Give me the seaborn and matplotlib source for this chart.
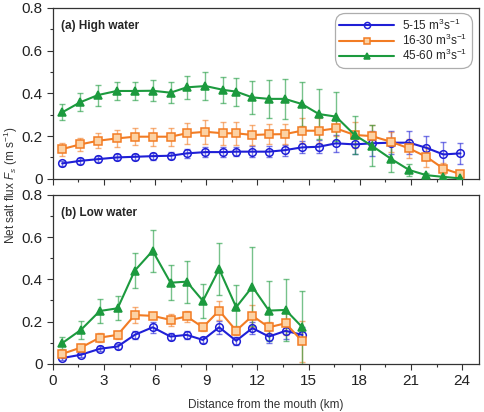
import numpy as np
import pandas as pd
import matplotlib
matplotlib.use("Agg")
import matplotlib.pyplot as plt
import seaborn as sns

# ---- data ----
series = ["5-15", "16-30", "45-60"]
legend_labels = ["5-15 m$^3$s$^{-1}$", "16-30 m$^3$s$^{-1}$", "45-60 m$^3$s$^{-1}$"]

# (a) high water
x_high = [0.55, 1.6, 2.65, 3.75, 4.8, 5.85, 6.9, 7.85, 8.95, 10.0, 10.75, 11.7,
          12.67, 13.6, 14.6, 15.6, 16.6, 17.7, 18.7, 19.8, 20.9, 21.9, 22.9, 23.9]
high_5_15 = [0.072, 0.084, 0.092, 0.100, 0.103, 0.106, 0.108, 0.119, 0.125, 0.125, 0.127, 0.127,
             0.127, 0.134, 0.147, 0.150, 0.166, 0.161, 0.166, 0.169, 0.169, 0.145, 0.114, 0.119]
high_5_15_err = [0.011, 0.013, 0.014, 0.014, 0.014, 0.016, 0.016, 0.020, 0.022, 0.022, 0.022, 0.025,
                 0.025, 0.025, 0.028, 0.030, 0.040, 0.044, 0.060, 0.055, 0.055, 0.056, 0.056, 0.050]
high_16_30 = [0.139, 0.161, 0.178, 0.189, 0.197, 0.197, 0.197, 0.213, 0.220, 0.213, 0.213, 0.205,
              0.208, 0.209, 0.225, 0.225, 0.236, 0.205, 0.200, 0.174, 0.142, 0.103, 0.048, 0.022]
high_16_30_err = [0.030, 0.032, 0.036, 0.038, 0.040, 0.042, 0.042, 0.050, 0.057, 0.054, 0.054, 0.048,
                  0.047, 0.047, 0.058, 0.058, 0.037, 0.060, 0.050, 0.047, 0.044, 0.047, 0.024, 0.010]
high_45_60 = [0.311, 0.358, 0.392, 0.411, 0.411, 0.412, 0.403, 0.428, 0.434, 0.416, 0.408, 0.381,
              0.374, 0.374, 0.350, 0.303, 0.291, 0.205, 0.155, 0.095, 0.041, 0.017, 0.009, 0.002]
high_45_60_err = [0.038, 0.043, 0.049, 0.043, 0.040, 0.049, 0.050, 0.053, 0.065, 0.061, 0.065, 0.078,
                  0.090, 0.094, 0.105, 0.115, 0.116, 0.088, 0.096, 0.065, 0.026, 0.008, 0.006, 0.004]

# (b) low water
x_low = [0.55, 1.65, 2.75, 3.8, 4.8, 5.85, 6.9, 7.85, 8.8, 9.75, 10.75, 11.7, 12.67, 13.65, 14.63]
low_5_15 = [0.027, 0.043, 0.071, 0.082, 0.137, 0.173, 0.129, 0.137, 0.113, 0.173, 0.109, 0.169,
            0.129, 0.156, 0.137]
low_5_15_err = [0.008, 0.010, 0.012, 0.012, 0.020, 0.025, 0.015, 0.020, 0.015, 0.030, 0.020, 0.030,
                0.030, 0.040, 0.035]
low_16_30 = [0.047, 0.077, 0.124, 0.137, 0.231, 0.227, 0.208, 0.224, 0.173, 0.252, 0.157, 0.227,
             0.173, 0.192, 0.106]
low_16_30_err = [0.015, 0.015, 0.020, 0.020, 0.040, 0.010, 0.030, 0.026, 0.020, 0.045, 0.020, 0.053,
                 0.025, 0.055, 0.098]
low_45_60 = [0.098, 0.161, 0.250, 0.263, 0.441, 0.535, 0.384, 0.389, 0.298, 0.449, 0.268, 0.365,
             0.252, 0.255, 0.173]
low_45_60_err = [0.028, 0.043, 0.057, 0.056, 0.084, 0.100, 0.084, 0.100, 0.079, 0.124, 0.104, 0.187,
                 0.142, 0.146, 0.172]

x_ticks = [0, 3, 6, 9, 12, 15, 18, 21, 24]
y_ticks = [0, 0.2, 0.4, 0.6, 0.8]
y_ticklabels = ["0", "0.2", "0.4", "0.6", "0.8"]

colors = {"5-15": "#1f1fd6", "16-30": "#f27c24", "45-60": "#1c9a3e"}
markers = {"5-15": "o", "16-30": "s", "45-60": "^"}
faces = {"5-15": "none", "16-30": "#fcd2a4", "45-60": "#1c9a3e"}


def to_long(x, vals, errs):
    frames = []
    for s, v, e in zip(series, vals, errs):
        frames.append(pd.DataFrame({"x": x, "flux": v, "err": e, "series": s}))
    return pd.concat(frames, ignore_index=True)


df_high = to_long(x_high, [high_5_15, high_16_30, high_45_60],
                  [high_5_15_err, high_16_30_err, high_45_60_err])
df_low = to_long(x_low, [low_5_15, low_16_30, low_45_60],
                 [low_5_15_err, low_16_30_err, low_45_60_err])

sns.set_style("ticks")
plt.rcParams["font.family"] = ["Liberation Sans", "DejaVu Sans"]
plt.rcParams["mathtext.fontset"] = "custom"
plt.rcParams["mathtext.rm"] = "Liberation Sans"
plt.rcParams["mathtext.it"] = "Liberation Sans:italic"

fig = plt.figure(figsize=(4.85, 4.12), dpi=100)
ax_a = fig.add_axes([0.109, 0.566, 0.879, 0.415])
ax_b = fig.add_axes([0.109, 0.117, 0.879, 0.410])


def draw_panel(ax, df, title):
    for s in series:
        d = df[df["series"] == s]
        ax.errorbar(d["x"], d["flux"], yerr=d["err"], fmt="none", ecolor=colors[s],
                    alpha=0.6, elinewidth=1.0, capsize=2.5, capthick=1.0, zorder=2)
        sns.lineplot(data=d, x="x", y="flux", ax=ax, color=colors[s], marker=markers[s],
                     markersize=5.5, markerfacecolor=faces[s], markeredgecolor=colors[s],
                     markeredgewidth=1.1, linewidth=1.5, label=s, zorder=3,
                     estimator=None, sort=False)
    ax.set_xlim(0, 25)
    ax.set_ylim(0, 0.8)
    ax.set_xticks(x_ticks)
    ax.set_xticks(np.arange(1.5, 25, 3), minor=True)
    ax.set_yticks(y_ticks)
    ax.set_yticklabels(y_ticklabels)
    ax.set_yticks([0.1, 0.3, 0.5, 0.7], minor=True)
    ax.tick_params(axis="both", which="major", labelsize=11, length=4, width=0.8,
                   direction="out", color="#333333", labelcolor="#222222")
    ax.tick_params(axis="both", which="minor", length=2.5, width=0.8, direction="out",
                   color="#333333")
    for sp in ax.spines.values():
        sp.set_linewidth(0.9)
        sp.set_color("#333333")
    ax.set_xlabel("")
    ax.set_ylabel("")
    ax.text(0.018, 0.93, title, transform=ax.transAxes, fontsize=8.5,
            fontweight="bold", ha="left", va="top")


draw_panel(ax_a, df_high, "(a) High water")
draw_panel(ax_b, df_low, "(b) Low water")
ax_a.tick_params(axis="x", labelbottom=False)

handles, _ = ax_a.get_legend_handles_labels()
leg = ax_a.legend(handles, legend_labels, loc="upper right", bbox_to_anchor=(0.983, 0.972),
                  fontsize=8.5, frameon=True, fancybox=True, edgecolor="#999999",
                  handlelength=4.6, handletextpad=0.7, labelspacing=0.0, borderpad=0.4,
                  borderaxespad=0.0, markerscale=0.8)
leg.get_frame().set_boxstyle("round,pad=0.0,rounding_size=0.9")
leg.get_frame().set_linewidth(0.9)
ax_b.legend_.remove()

fig.text(0.022, 0.55, "Net salt flux $F_s$ (m s$^{-1}$)", rotation=90,
         ha="center", va="center", fontsize=8.5, color="#333333")
fig.text(0.548, 0.018, "Distance from the mouth (km)", ha="center", va="center",
         fontsize=8.5, color="#333333")

fig.savefig("out.png", dpi=100)
